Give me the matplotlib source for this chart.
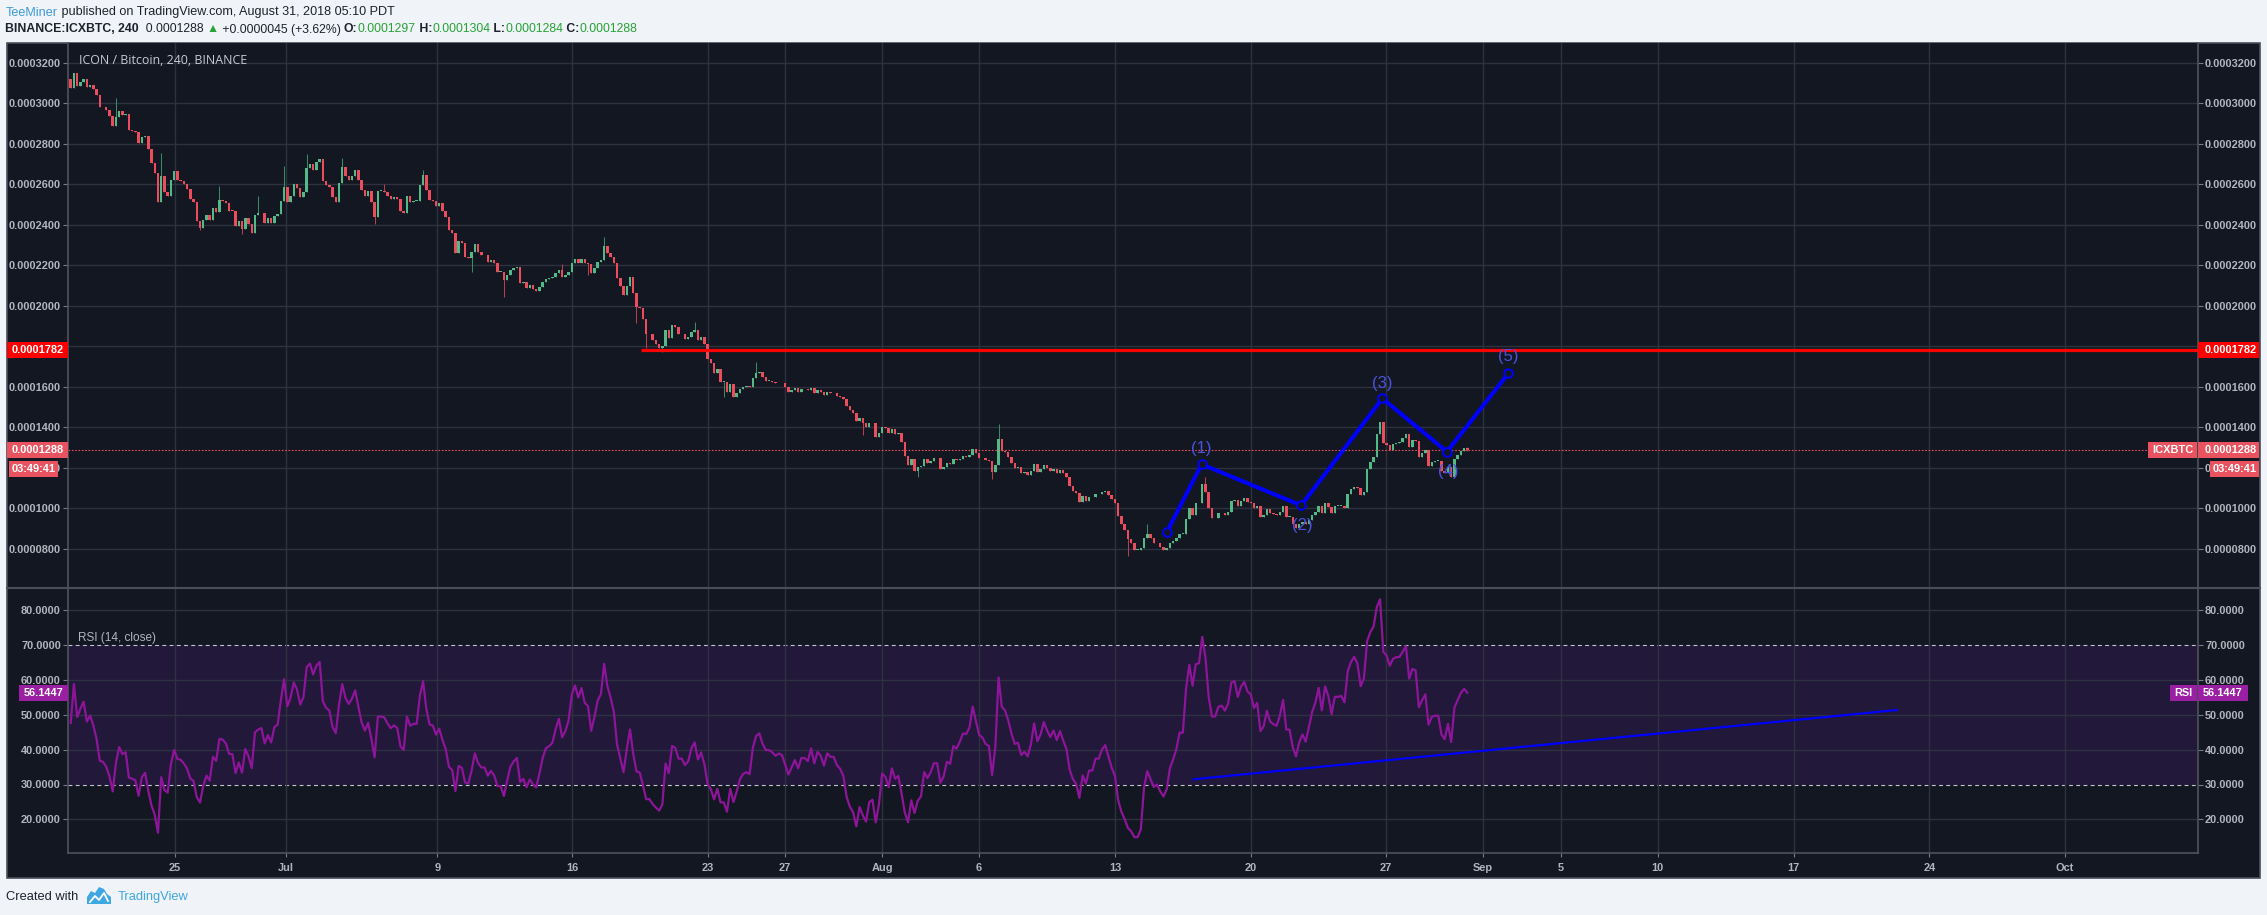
import numpy as np
import matplotlib
matplotlib.use("Agg")
import matplotlib.pyplot as plt
from matplotlib.patches import Rectangle, Polygon
from matplotlib.ticker import FuncFormatter, FixedLocator
from matplotlib.lines import Line2D

# ---------------- data (prices in units of 1e-7 BTC) ----------------
open_first = 3118
close_a = [3073, 3147, 3085, 3103, 3118, 3078, 3090, 3070, 3040, 2983,
           2980, 2966, 2938, 2887, 2933, 2961, 2942, 2945, 2868, 2864,
           2859, 2802, 2831, 2838, 2774, 2706, 2654, 2514, 2640, 2560,
           2543, 2621, 2665, 2621, 2617, 2599, 2575, 2525, 2514, 2420,
           2385, 2423, 2448, 2423, 2481, 2464, 2522, 2519, 2506, 2469,
           2468, 2395, 2418, 2377, 2431, 2404, 2357, 2448, 2456, 2460,
           2410, 2431, 2407, 2445, 2451, 2517, 2588, 2514, 2543, 2599,
           2580, 2538, 2563, 2682, 2698, 2670, 2708, 2724, 2617, 2596,
           2588, 2535, 2514, 2604, 2683, 2640, 2621, 2640, 2670, 2621,
           2571, 2543, 2566, 2510, 2436, 2566, 2566, 2563, 2543, 2527,
           2535, 2527, 2468, 2456, 2542, 2514, 2519, 2519, 2596, 2645,
           2571, 2522, 2519]
close_b = [2490, 2505, 2470, 2440,
           2374, 2361, 2262, 2320, 2311, 2242, 2237, 2265, 2305, 2267,
           2249, 2249, 2217, 2226, 2209, 2168, 2168, 2127, 2152, 2176,
           2185, 2191, 2114, 2119, 2089, 2101, 2084, 2074, 2094, 2117,
           2132, 2135, 2140, 2160, 2176, 2143, 2152, 2168, 2213, 2231,
           2213, 2231, 2209, 2204, 2163, 2185, 2214, 2226, 2295, 2259,
           2239, 2213, 2138, 2099, 2053, 2097, 2140, 2064, 1995, 1990,
           1934, 1859, 1859, 1831, 1811, 1793, 1803, 1880, 1842, 1903,
           1897, 1859, 1859, 1837, 1844, 1869, 1880, 1831, 1844, 1809,
           1738, 1715, 1669, 1687, 1623, 1623, 1574, 1613, 1548, 1567,
           1590, 1600, 1603, 1597, 1643, 1666, 1671, 1646, 1630, 1630,
           1625, 1617, 1620, 1617, 1597, 1576, 1584, 1592]
close_c = [1576, 1587, 1587, 1582, 1594, 1571, 1582, 1576, 1561, 1572,
           1567, 1567, 1556, 1551, 1541, 1506, 1485, 1472, 1431, 1446,
           1423, 1403, 1419, 1421, 1353, 1370, 1403, 1395, 1370, 1391,
           1367, 1370, 1325, 1258, 1213, 1241, 1185, 1202, 1208, 1243,
           1225, 1233, 1246, 1246, 1194, 1202, 1222, 1217, 1241, 1236,
           1245, 1256, 1255, 1263, 1291, 1271, 1250, 1246, 1236, 1233,
           1181, 1213, 1340, 1284, 1276, 1255, 1225, 1200, 1202, 1172,
           1177, 1166, 1184, 1218, 1181, 1192, 1213, 1197, 1184, 1194,
           1176, 1189, 1172, 1156, 1111, 1087, 1074, 1032, 1060, 1037,
           1054, 1054, 1069, 1069, 1080, 1085, 1065, 1044, 1027, 963,
           922, 892, 848, 830, 794, 794, 802, 851, 873, 851,
           827]
close_d = [830, 810, 794, 802, 827, 838, 851, 873, 873, 945,
           1000, 967, 1024, 1027, 1118, 1082, 1000, 950, 950, 975,
           978, 967, 983, 1037, 1041, 1011, 1037, 1049, 1032, 1027,
           1003, 1013, 958, 967, 996, 975, 970, 967, 983, 1011,
           958, 958, 922, 901, 922, 934, 920, 942, 967, 983,
           1011, 975, 1024, 1008, 975, 1011, 1011, 1013, 1003, 1069,
           1093, 1107, 1098, 1065, 1082, 1192, 1230, 1255, 1367, 1427,
           1320, 1312, 1288, 1317, 1324, 1325, 1345, 1367, 1304, 1337,
           1334, 1251, 1271, 1288, 1209, 1230, 1233, 1233, 1185, 1172,
           1205, 1156, 1241, 1263, 1284, 1296, 1288]
wick_high = {14: 3024, 28: 2752, 46: 2591, 58: 2542, 66: 2690, 73: 2747,
             84: 2731, 97: 2601, 109: 2670, 152: 2206, 165: 2338, 193: 1921,
             212: 1720, 287: 1416, 333: 922, 351: 1156, 432: 1304}
wick_low = {40: 2374, 53: 2352, 94: 2402, 124: 2168, 134: 2045, 160: 2152,
            175: 1916, 178: 1793, 183: 1773, 202: 1551, 245: 1362, 262: 1156,
            285: 1143, 327: 766, 432: 1284}

# RSI state carried in from bars before the visible window (avg gain / avg loss)
rsi_prior_avg_gain = 10.0
rsi_prior_avg_loss = 11.0
rsi_period = 14

date_tick_pos = [32.3, 66.5, 113.4, 155.1, 197.2, 221.0, 251.0, 281.0, 323.1,
                 365.1, 406.8, 436.9, 460.9, 490.9, 532.9, 574.9, 616.9]
date_tick_labels = ['25', 'Jul', '9', '16', '23', '27', 'Aug', '6', '13', '20',
                    '27', 'Sep', '5', '10', '17', '24', 'Oct']
price_ticks = [800, 1000, 1200, 1400, 1600, 1800, 2000, 2200, 2400, 2600, 2800, 3000, 3200]
rsi_ticks = [20, 30, 40, 50, 60, 70, 80]

resistance = 1782
resistance_start = 176.4
last_price = 1288
rsi_last = 56.1447
countdown = '03:49:41'

wave_bars = [339.0, 349.8, 380.6, 405.7, 425.7, 444.7]
wave_vals = [881, 1217, 1014, 1542, 1279, 1666]
wave_labels = ['(1)', '(2)', '(3)', '(4)', '(5)']
wave_label_bars = [349.8, 381.0, 405.8, 426.2, 444.7]
wave_label_vals = [1296, 917, 1617, 1180, 1747]

rsi_trend_bars = [347.4, 564.9]
rsi_trend_vals = [31.5, 51.35]

# ---------------- derived series ----------------
close = np.array(close_a + close_b + close_c + close_d, dtype=float)
n = len(close)
opens = np.concatenate([[open_first], close[:-1]])
hi = np.maximum(opens, close)
lo = np.minimum(opens, close)
for k, v in wick_high.items():
    hi[k] = max(hi[k], v)
for k, v in wick_low.items():
    lo[k] = min(lo[k], v)
idx = np.arange(n)
up = close >= opens

# RSI(14, close), Wilder smoothing
diff = np.diff(close, prepend=close[0])
gain = np.clip(diff, 0, None)
loss = np.clip(-diff, 0, None)
ag = np.zeros(n); al = np.zeros(n)
ag[0], al[0] = rsi_prior_avg_gain, rsi_prior_avg_loss
for i in range(1, n):
    ag[i] = (ag[i-1] * (rsi_period - 1) + gain[i]) / rsi_period
    al[i] = (al[i-1] * (rsi_period - 1) + loss[i]) / rsi_period
rsi = 100 - 100 / (1 + ag / np.maximum(al, 1e-9))

# ---------------- style ----------------
W, H = 2267, 915
BG = '#131722'
GRID = '#2e3240'
AXC = '#50535e'
TXT = '#b2b5be'
UPC, DNC = '#53b987', '#eb4d5c'
UPW, DNW = '#3a8a64', '#b5404e'
plt.rcParams['font.family'] = ['Liberation Sans', 'DejaVu Sans']
plt.rcParams['font.weight'] = 'bold'

fig = plt.figure(figsize=(W / 100, H / 100), dpi=100)
fig.patch.set_facecolor('#f0f3f7')

def fx(x):
    return x / W

def fy(y):
    return 1 - y / H

# dark panel
fig.patches.append(Rectangle((fx(7), fy(878)), (2260 - 7) / W, (878 - 43) / H,
                             transform=fig.transFigure, facecolor=BG,
                             edgecolor='#4a4e5a', lw=1.2, zorder=-5))

SEP = 588
PL, PR = 68, 2198
ax_p = fig.add_axes([fx(PL), fy(SEP), (PR - PL) / W, (SEP - 43) / H])
ax_r = fig.add_axes([fx(PL), fy(853), (PR - PL) / W, (853 - SEP) / H])

XL = (-0.835, 658.0)
P_TOP = 3200 + (62.7 - 43) * 4.938
P_BOT = 3200 - (SEP - 62.7) * 4.938
R_TOP = 80 + (610 - SEP) / 3.49
R_BOT = 80 - (853 - 610) / 3.49

for ax in (ax_p, ax_r):
    ax.set_facecolor(BG)
    ax.set_xlim(*XL)
    ax.spines['top'].set_visible(False)
    for s in ('left', 'right', 'bottom'):
        ax.spines[s].set_color(AXC)
        ax.spines[s].set_linewidth(1.2)
    ax.xaxis.set_major_locator(FixedLocator(date_tick_pos))
    ax.grid(True, axis='x', color=GRID, lw=1.0, zorder=0)

ax_p.set_ylim(P_BOT, P_TOP)
ax_r.set_ylim(R_BOT, R_TOP)

# price axis ticks
ax_p.set_yticks(price_ticks)
ax_p.yaxis.set_major_formatter(FuncFormatter(lambda v, p: f"{v * 1e-7:.7f}"))
ax_p.grid(True, axis='y', color=GRID, lw=1.0, zorder=0)
ax_p.tick_params(axis='y', left=True, right=True, labelleft=True, labelright=True,
                 direction='out', length=3.6, width=0.8, color='#787b86',
                 labelcolor=TXT, labelsize=7.9, pad=1.5)
ax_p.tick_params(axis='x', bottom=False, labelbottom=False)

# RSI ticks
ax_r.set_yticks(rsi_ticks)
ax_r.yaxis.set_major_formatter(FuncFormatter(lambda v, p: f"{v:.4f}"))
ax_r.tick_params(axis='y', left=True, right=True, labelleft=True, labelright=True,
                 direction='out', length=3.6, width=0.8, color='#787b86',
                 labelcolor=TXT, labelsize=7.9, pad=1.5)
ax_r.set_xticks(date_tick_pos)
ax_r.set_xticklabels(date_tick_labels)
ax_r.tick_params(axis='x', bottom=True, direction='out', length=3, width=0.8,
                 color='#787b86', labelcolor=TXT, labelsize=7.9, pad=4)

# ---------------- candles ----------------
body_h = np.maximum(np.abs(close - opens), 3.5)
body_b = np.minimum(opens, close)
ax_p.vlines(idx[up], lo[up], hi[up], colors=UPW, lw=0.75, zorder=3)
ax_p.vlines(idx[~up], lo[~up], hi[~up], colors=DNW, lw=0.75, zorder=3)
ax_p.bar(idx[up], body_h[up], bottom=body_b[up], width=0.76, color=UPC, lw=0, zorder=4)
ax_p.bar(idx[~up], body_h[~up], bottom=body_b[~up], width=0.76, color=DNC, lw=0, zorder=4)

# resistance and last price lines
ax_p.hlines(resistance, resistance_start, XL[1], colors='#ff0000', lw=2.3, zorder=5)
ax_p.axhline(last_price, color='#ec4e5c', lw=0.8, ls=(0, (1.5, 1.5)), zorder=2)

# elliott wave
ax_p.plot(wave_bars, wave_vals, color='#0000ff', lw=2.9, zorder=6, solid_capstyle='round')
ax_p.plot(wave_bars, wave_vals, ls='none', marker='o', ms=6.2, mfc=BG, mec='#0000ff',
          mew=1.4, zorder=7)
for lb, bx, bv in zip(wave_labels, wave_label_bars, wave_label_vals):
    ax_p.text(bx, bv, lb, color='#4b53dc', fontsize=12, fontweight='normal',
              ha='center', va='center', zorder=8)

# title
t_title = fig.text(fx(79), fy(61), 'ICON / Bitcoin, 240, BINANCE', color='#c8cbd3',
                   fontsize=10, fontweight='normal', family='Open Sans', ha='left', va='center')

# ---------------- RSI ----------------
ax_r.axhspan(30, 70, color='#21183a', lw=0, zorder=0.5)
for v in (20, 40, 50, 60, 80):
    ax_r.axhline(v, color=GRID, lw=1.0, zorder=0.8)
for v in (30, 70):
    ax_r.axhline(v, color='#c3c6ce', lw=0.8, ls=(0, (3.5, 3)), zorder=1)
ax_r.plot(idx, rsi, color='#8e1599', lw=1.6, zorder=3)
ax_r.plot(rsi_trend_bars, rsi_trend_vals, color='#0000ff', lw=1.6, zorder=4)
fig.text(fx(78), fy(638), 'RSI (14, close)', color=TXT, fontsize=8.5,
         fontweight='normal', ha='left', va='center')

# separator
fig.add_artist(Line2D([fx(7), fx(2260)], [fy(SEP), fy(SEP)], color='#4a4e5a', lw=1.5))

# ---------------- axis label boxes ----------------
fig.canvas.draw()
def ypix(ax, v):
    return H - ax.transData.transform((0, v))[1]

def box(x0, x1, yc, h, text, fc, tc='white', tx=None):
    fig.patches.append(Rectangle((fx(x0), fy(yc + h / 2)), (x1 - x0) / W, h / H,
                                 transform=fig.transFigure, facecolor=fc, lw=0, zorder=20))
    fig.text(fx((x0 + x1) / 2 if tx is None else tx), fy(yc), text, color=tc, fontsize=7.9,
             fontweight='bold', ha='center', va='center', zorder=21)

yr = ypix(ax_p, resistance)
box(2198, 2259, yr, 16, '0.0001782', '#ff0000', tx=2231)
box(7, 68, yr, 16, '0.0001782', '#ff0000')
yl = ypix(ax_p, last_price)
box(2198, 2259, yl, 16, '0.0001288', '#e8535f', tx=2231)
box(2148, 2197, yl, 16, 'ICXBTC', '#e8535f')
box(2210, 2259, yl + 19, 16, countdown, '#e8535f')
box(7, 68, yl, 16, '0.0001288', '#e8535f')
box(9, 58, yl + 19, 16, countdown, '#e8535f')
yrs = ypix(ax_r, rsi_last)
box(2198, 2248, yrs, 16, '56.1447', '#9a1fa3')
box(2170, 2197, yrs, 16, 'RSI', '#9a1fa3')
box(19, 68, yrs, 16, '56.1447', '#9a1fa3')

# ---------------- header / footer ----------------
def chain(x, y, parts, target_w=None, size=9.0):
    r = fig.canvas.get_renderer()
    texts = []
    for s, c, w in parts:
        texts.append(fig.text(0, fy(y), s, color=c, fontsize=size, fontweight=w,
                              ha='left', va='center'))
    def layout():
        xx = x
        for t in texts:
            t.set_x(fx(xx))
            bb = t.get_window_extent(renderer=r)
            xx += bb.width
        return xx
    end = layout()
    if target_w is not None:
        sc = target_w / (end - x)
        for t in texts:
            t.set_fontsize(size * sc)
        layout()
    return texts

DARK = '#1e222d'
GRN = '#26a336'
chain(6, 12.5, [('TeeMiner', '#3d9ad8', 'normal'),
                (' published on TradingView.com, August 31, 2018 05:10 PDT', DARK, 'normal')],
      target_w=389)
chain(5, 29.5, [('BINANCE:ICXBTC, 240', DARK, 'bold'), ('  0.0001288 ', DARK, 'normal'),
                ('\u25B2', GRN, 'normal'), (' +0.0000045 (+3.62%) ', DARK, 'normal'),
                ('O:', DARK, 'bold'), ('0.0001297', GRN, 'normal'),
                (' H:', DARK, 'bold'), ('0.0001304', GRN, 'normal'),
                (' L:', DARK, 'bold'), ('0.0001284', GRN, 'normal'),
                (' C:', DARK, 'bold'), ('0.0001288', GRN, 'normal')], target_w=635)
chain(6, 897, [('Created with', DARK, 'normal')], target_w=73)
chain(118, 897, [('TradingView', '#3fa7e1', 'normal')], target_w=71)

# title width fit
r = fig.canvas.get_renderer()
bbw = t_title.get_window_extent(renderer=r).width
t_title.set_fontsize(10 * 168 / bbw)

# logo
logo = [(87, 904), (87, 897), (91, 891), (95, 893), (99, 887), (104, 889), (107, 894),
        (111, 897), (111, 904)]
fig.patches.append(Polygon([(fx(a), fy(b)) for a, b in logo], closed=True,
                           transform=fig.transFigure, facecolor='#3fa7e1', lw=0))
fig.add_artist(Line2D([fx(90), fx(95), fx(99), fx(104), fx(108)],
                      [fy(902), fy(896), fy(900), fy(893), fy(901)],
                      color='white', lw=1.3))

fig.savefig('out.png', dpi=100, facecolor=fig.get_facecolor())
